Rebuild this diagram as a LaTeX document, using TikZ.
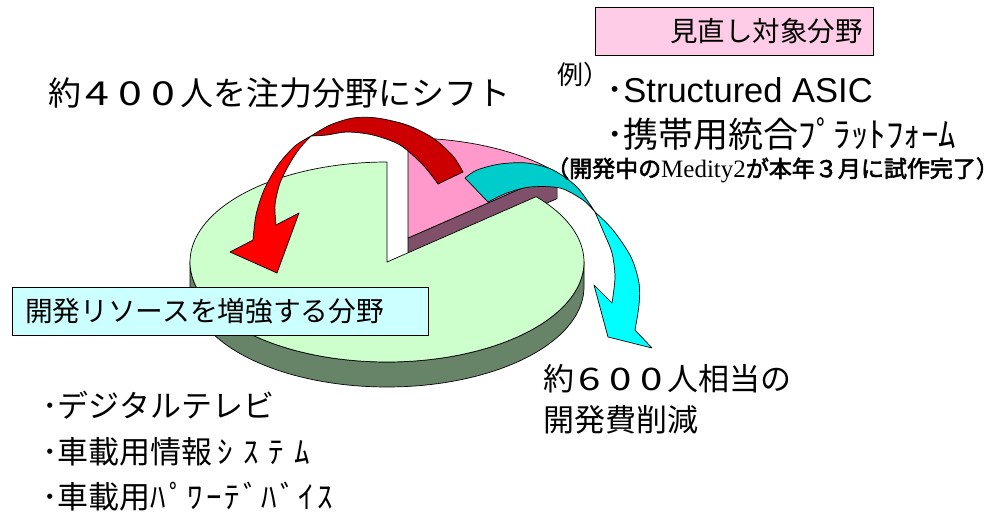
\documentclass[tikz,border=0pt]{standalone}
\usepackage{graphicx}
\usepackage{fontspec}
\setmainfont{Liberation Sans}
\newfontfamily\jp{Noto Sans CJK JP}
\newfontfamily\jpb[FakeBold=2.5]{Noto Sans CJK JP}
\newfontfamily\tms{Liberation Serif}
\newcommand{\setfs}[1]{\fontsize{#1}{#1}\selectfont}
\newcommand{\wdig}[1]{\makebox[1em]{\scalebox{1.3}[1]{#1}}}
\definecolor{gtop}{HTML}{CCFFCC}
\definecolor{gside}{HTML}{688468}
\definecolor{ptop}{HTML}{FF99CC}
\definecolor{pside}{HTML}{80506A}
\definecolor{rdark}{HTML}{CC0000}
\definecolor{rbright}{HTML}{FF0000}
\definecolor{cdark}{HTML}{00CCCC}
\definecolor{cbright}{HTML}{00FFFF}
\definecolor{boxpink}{HTML}{FFCCE8}
\definecolor{boxcyan}{HTML}{CCFFFF}
\tikzset{
  piece/.style={draw=black,line width=0.7pt,line join=round},
  txt/.style={inner sep=0pt,anchor=west,text=black},
  labelbox/.style={draw=black,line width=0.8pt,inner sep=0pt,anchor=north west}
}
\begin{document}
\begin{tikzpicture}[x=1pt,y=-1pt]
\useasboundingbox (0,0) rectangle (997,520);
% pink slice (exploded)
\filldraw[piece,fill=pside] (408,238) -- (557.1,172.6) -- (557.1,198.6) -- (408,264) -- cycle;
\filldraw[piece,fill=ptop] (408,238) -- plot[domain=40.8:90,samples=40] ({408+197*cos(\x)},{238-100*sin(\x)}) -- cycle;
% green slice
\filldraw[piece,fill=gside] plot[domain=180:360,samples=80] ({387+197*cos(\x)},{262-100*sin(\x)})
   -- plot[domain=360:180,samples=80] ({387+197*cos(\x)},{287-100*sin(\x)}) -- cycle;
\filldraw[piece,fill=gtop] (387,262) -- plot[domain=90:400.8,samples=150] ({387+197*cos(\x)},{262-100*sin(\x)}) -- cycle;
% red arrow: back band
\filldraw[piece,fill=rdark] plot[smooth] coordinates {(311,136) (330,125) (353,118) (377,118) (407,125) (433,138) (453,156) (463,172)}
   -- plot[smooth] coordinates {(438,184) (423,165) (400,145) (373,135) (347,132) (327,135) (311,136)} -- cycle;
% red arrow: front band with head
\filldraw[piece,fill=rbright] plot[smooth] coordinates {(311,136) (295,146) (278,165) (264,190) (256,215) (253,240)}
   -- (230,252) -- (277,273) -- (299,213) -- (276,225)
   -- plot[smooth] coordinates {(276,225) (275,205) (280,183) (290,163) (300,148) (311,136)} -- cycle;
% cyan arrow: back band
\filldraw[piece,fill=cdark] plot[smooth] coordinates {(465,178) (477,170) (500,164) (527,163) (553,170) (577,187) (595,212)}
   -- plot[smooth] coordinates {(595,212) (583,200) (560,188) (530,187) (507,193) (488,202)} -- cycle;
% cyan arrow: front band with head
\filldraw[piece,fill=cbright] plot[smooth] coordinates {(595,212) (613,230) (631,257) (639,283) (639,305) (635,330)}
   -- (652,348) -- (608,337) -- (594,285) -- (612,303)
   -- plot[smooth] coordinates {(612,303) (615,277) (612,253) (604,233) (595,212)} -- cycle;
% labels
\node[txt] (shift) at (48,93) {\setfs{33}\jp 約\wdig{4}\wdig{0}\wdig{0}人を注力分野にシフト};
\node[labelbox,fill=boxpink,minimum width=278pt,minimum height=48pt] (revbox) at (595,7) {};
\node[txt] (revtxt) at (670,31) {\setfs{27.5}\jp 見直し対象分野};
\node[txt] (rei) at (557,75) {\setfs{26}\jp 例\makebox[0.55em][l]{）}};
\node[txt,anchor=base west] (asic) at (606,102) {\setfs{34.5}{\jp ･}Structured ASIC};
\node[txt] (keitai) at (606,134) {\setfs{35}\jp ･携帯用統合ﾌﾟﾗｯﾄﾌｫｰﾑ};
\node[txt] (medity) at (546,170) {\setfs{23}\jpb （開発中の{\tms\setfs{25}Medity2}が本年３月に試作完了\makebox[0.55em][l]{）}};
\node[labelbox,fill=boxcyan,minimum width=416pt,minimum height=48pt] (incbox) at (12,287) {};
\node[txt] (inctxt) at (25,311) {\setfs{27.7}\jp 開発リソースを増強する分野};
\node[txt] (l1) at (42,405) {\setfs{31}\jp ･デジタルテレビ};
\node[txt] (l2) at (42,452) {\setfs{31}\jp ･車載用情報\kern5ptｼ\kern10ptｽ\kern10ptﾃ\kern10ptﾑ};
\node[txt] (l3) at (42,497) {\setfs{31}\jp ･車載用ﾊ\kern3ptﾟ\kern3ptﾜ\kern3ptｰ\kern3ptﾃ\kern3ptﾞ\kern3ptﾊ\kern3ptﾞ\kern3ptｲ\kern3ptｽ};
\node[txt] (cut1) at (543,379) {\setfs{31}\jp 約\wdig{6}\wdig{0}\wdig{0}人相当の};
\node[txt] (cut2) at (543,420) {\setfs{31}\jp 開発費削減};
\end{tikzpicture}
\end{document}
